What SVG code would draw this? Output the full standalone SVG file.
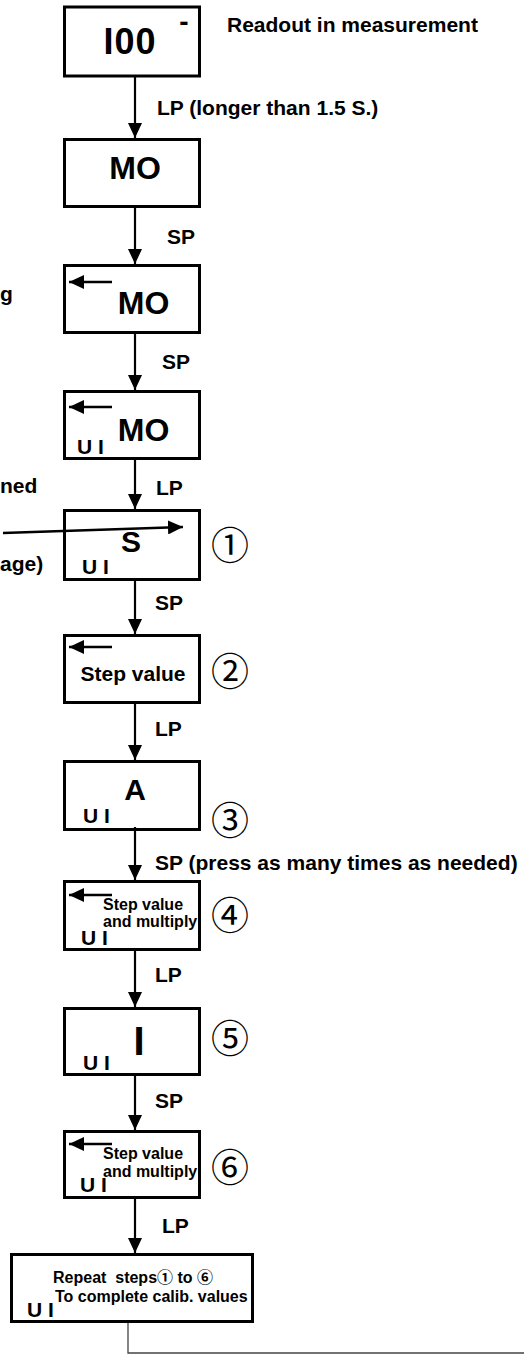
<svg xmlns="http://www.w3.org/2000/svg" width="524" height="1355" viewBox="0 0 524 1355">
<style>
.box{fill:#fff;stroke:#000;stroke-width:3}
.t{font-family:"Liberation Sans",Arial,sans-serif;font-weight:bold;fill:#000}
.big{font-size:32px;text-anchor:middle}
.lbl{font-size:21px}
.sm{font-size:16px}
.ui{font-size:21px}
.num{font-family:"Noto Sans CJK JP","DejaVu Sans",sans-serif;font-size:38px;text-anchor:middle;fill:#000}
.conn{stroke:#000;stroke-width:2.2;fill:none}
.la{stroke:#000;stroke-width:2.4;fill:none}
</style>
<defs>
<marker id="ah" viewBox="0 0 15 14" refX="15" refY="7" markerWidth="15" markerHeight="14" markerUnits="userSpaceOnUse" orient="auto">
<path d="M0,0 L15,7 L0,14 z" fill="#000"/>
</marker>
</defs>

<g id="labels">
<text class="t lbl" x="227" y="32">Readout in measurement</text>
<text class="t lbl" x="157" y="115">LP (longer than 1.5 S.)</text>
<text class="t lbl" x="167" y="244">SP</text>
<text class="t lbl" x="162" y="369">SP</text>
<text class="t lbl" x="156" y="495">LP</text>
<text class="t lbl" x="155" y="610">SP</text>
<text class="t lbl" x="155" y="736">LP</text>
<text class="t lbl" x="155" y="870">SP (press as many times as needed)</text>
<text class="t lbl" x="155" y="982">LP</text>
<text class="t lbl" x="155" y="1108">SP</text>
<text class="t lbl" x="162" y="1233">LP</text>
<text class="t lbl" x="0" y="301">g</text>
<text class="t lbl" x="0" y="493">ned</text>
<text class="t lbl" x="0" y="571">age)</text>
</g>

<g id="node1">
<rect class="box" x="64.5" y="7" width="135" height="69"/>
<text class="t" x="130" y="54" font-size="36" text-anchor="middle" letter-spacing="1">I00</text>
<text class="t" x="184" y="31" font-size="28" text-anchor="middle">-</text>
</g>

<g id="node2">
<rect class="box" x="64.5" y="139.5" width="135" height="67"/>
<text class="t big" x="135" y="179">MO</text>
</g>

<g id="node3">
<rect class="box" x="64.5" y="265.5" width="135" height="67"/>
<line class="la" x1="112" y1="282" x2="69" y2="282" marker-end="url(#ah)"/>
<text class="t big" x="143.5" y="314">MO</text>
</g>

<g id="node4">
<rect class="box" x="64.5" y="391.5" width="135" height="67"/>
<line class="la" x1="112" y1="407" x2="69" y2="407" marker-end="url(#ah)"/>
<text class="t big" x="143.5" y="441">MO</text>
<text class="t ui" x="77" y="454">U I</text>
</g>

<g id="node5">
<rect class="box" x="64.5" y="510.5" width="135" height="69"/>
<text class="t" x="131" y="552" font-size="30" text-anchor="middle">S</text>
<text class="t ui" x="82" y="574">U I</text>
<text class="num" x="230" y="559">①</text>
</g>

<g id="node6">
<rect class="box" x="64.5" y="635.5" width="135" height="67"/>
<line class="la" x1="112" y1="647" x2="69" y2="647" marker-end="url(#ah)"/>
<text class="t lbl" x="133" y="681" text-anchor="middle">Step value</text>
<text class="num" x="230" y="685">②</text>
</g>

<g id="node7">
<rect class="box" x="64.5" y="761.5" width="135" height="68"/>
<text class="t" x="135" y="800" font-size="30" text-anchor="middle">A</text>
<text class="t ui" x="83" y="823">U I</text>
<text class="num" x="230" y="834">③</text>
</g>

<g id="node8">
<rect class="box" x="64.5" y="881.5" width="135" height="68"/>
<line class="la" x1="112" y1="895" x2="69" y2="895" marker-end="url(#ah)"/>
<text class="t sm" x="103" y="910">Step value</text>
<text class="t sm" x="103" y="927">and multiply</text>
<text class="t ui" x="81" y="945">U I</text>
<text class="num" x="230" y="929">④</text>
</g>

<g id="node9">
<rect class="box" x="64.5" y="1008.5" width="135" height="66"/>
<text class="t" x="139" y="1055" font-size="40" text-anchor="middle">I</text>
<text class="t ui" x="83" y="1070">U I</text>
<text class="num" x="230" y="1052">⑤</text>
</g>

<g id="node10">
<rect class="box" x="64.5" y="1131.5" width="135" height="66"/>
<line class="la" x1="112" y1="1144" x2="69" y2="1144" marker-end="url(#ah)"/>
<text class="t sm" x="103" y="1159">Step value</text>
<text class="t sm" x="103" y="1177">and multiply</text>
<text class="t ui" x="80" y="1192">U I</text>
<text class="num" x="230" y="1181">⑥</text>
</g>

<g id="node11">
<rect class="box" x="11.5" y="1254.5" width="241" height="67"/>
<text class="t sm" x="53" y="1283" xml:space="preserve" style="font-family:'Liberation Sans','Noto Sans CJK JP',sans-serif">Repeat  steps① to ⑥</text>
<text class="t sm" x="55" y="1302">To complete calib. values</text>
<text class="t ui" x="27" y="1317">U I</text>
</g>

<g id="connectors">
<line class="conn" x1="135" y1="77" x2="135" y2="138" marker-end="url(#ah)"/>
<line class="conn" x1="135" y1="208" x2="135" y2="264" marker-end="url(#ah)"/>
<line class="conn" x1="135" y1="334" x2="135" y2="390" marker-end="url(#ah)"/>
<line class="conn" x1="135" y1="457" x2="135" y2="509" marker-end="url(#ah)"/>
<line class="conn" x1="135" y1="581" x2="135" y2="634" marker-end="url(#ah)"/>
<line class="conn" x1="135" y1="704" x2="135" y2="760" marker-end="url(#ah)"/>
<line class="conn" x1="135" y1="827" x2="135" y2="880" marker-end="url(#ah)"/>
<line class="conn" x1="135" y1="951" x2="135" y2="1007" marker-end="url(#ah)"/>
<line class="conn" x1="135" y1="1073" x2="135" y2="1130" marker-end="url(#ah)"/>
<line class="conn" x1="135" y1="1196" x2="135" y2="1253" marker-end="url(#ah)"/>
<path d="M128,1323 L128,1353 L524,1353" stroke="#444" stroke-width="1.3" fill="none"/>
<line class="la" x1="3" y1="533" x2="183" y2="527" marker-end="url(#ah)"/>
</g>
</svg>
